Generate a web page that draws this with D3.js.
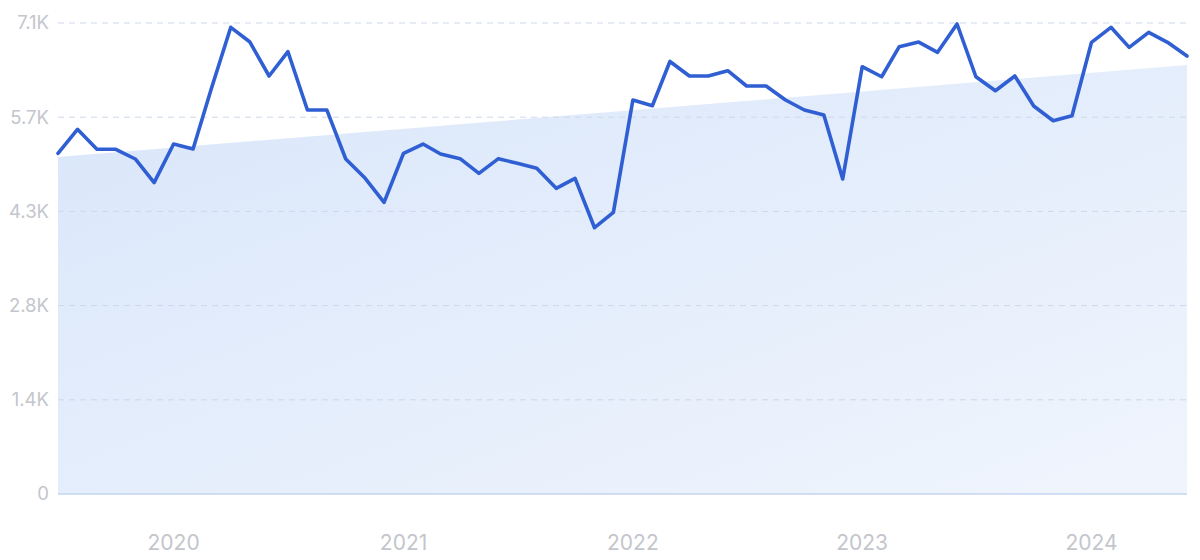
<!DOCTYPE html>
<html>
<head>
<meta charset="utf-8">
<script src="https://cdn.jsdelivr.net/npm/d3@7"></script>
<style>
  html, body { margin: 0; padding: 0; background: #ffffff; }
  svg { display: block; }
</style>
</head>
<body>
<svg id="chart" width="1200" height="560"></svg>
<script>
// ---- data ----
const startMonth = "2019-07";
const values = [
  5136, 5497, 5196, 5196, 5050, 4693, 5276, 5200, 6110, 7035,
  6818, 6301, 6667, 5788, 5788, 5050, 4759, 4397, 5136, 5276,
  5125, 5055, 4834, 5055, 4985, 4910, 4608, 4759, 4014, 4246,
  5939, 5853, 6520, 6301, 6301, 6381, 6150, 6150, 5939, 5788,
  5713, 4748, 6441, 6290, 6743, 6812, 6658, 7085, 6290, 6079,
  6301, 5848, 5627, 5703, 6809, 7035, 6733, 6959, 6809, 6602
];
const trendValues = [5080, 6467];
const yTicks = [0, 1420, 2840, 4260, 5680, 7100];
const yTickLabels = ["0", "1.4K", "2.8K", "4.3K", "5.7K", "7.1K"];
const xTickYears = ["2020", "2021", "2022", "2023", "2024"];

(function () {
  const parseMonth = d3.timeParse("%Y-%m");
  const start = parseMonth(startMonth);
  const dates = values.map((v, i) => d3.timeMonth.offset(start, i));
  const series = values.map((v, i) => ({ date: dates[i], value: v }));

  const svg = d3.select("#chart");
  const mLeft = 58, mRight = 1187, mTop = 23, mBottom = 494;

  const x = d3.scaleTime()
    .domain([dates[0], dates[dates.length - 1]])
    .range([mLeft, mRight]);
  const y = d3.scaleLinear()
    .domain([0, 7100])
    .range([mBottom, mTop]);

  const defs = svg.append("defs");
  const grad = defs.append("linearGradient")
    .attr("id", "areaGrad")
    .attr("x1", "0%").attr("y1", "0%")
    .attr("x2", "100%").attr("y2", "100%");
  grad.append("stop").attr("offset", "0%").attr("stop-color", "#d9e6fa");
  grad.append("stop").attr("offset", "100%").attr("stop-color", "#f0f5fd");

  const trend = [
    { date: dates[0], value: trendValues[0] },
    { date: dates[dates.length - 1], value: trendValues[1] }
  ];
  svg.append("path")
    .datum(trend)
    .attr("fill", "url(#areaGrad)")
    .attr("d", d3.area()
      .x(d => x(d.date))
      .y0(y(0))
      .y1(d => y(d.value)));

  svg.append("g")
    .selectAll("line")
    .data(yTicks.filter(t => t > 0))
    .join("line")
    .attr("x1", mLeft).attr("x2", mRight)
    .attr("y1", d => y(d)).attr("y2", d => y(d))
    .attr("stroke", "#cdd8ea")
    .attr("stroke-width", 1)
    .attr("stroke-dasharray", "6,5");

  svg.append("line")
    .attr("x1", mLeft).attr("x2", mRight)
    .attr("y1", y(0)).attr("y2", y(0))
    .attr("stroke", "#c4d5ef")
    .attr("stroke-width", 1.5);

  svg.append("g")
    .selectAll("text")
    .data(yTicks)
    .join("text")
    .attr("x", 49)
    .attr("y", d => y(d))
    .attr("dy", "0.35em")
    .attr("text-anchor", "end")
    .attr("font-family", "Inter, 'Noto Sans', sans-serif")
    .attr("font-size", 18.5)
    .attr("fill", "#c3c6cc")
    .text((d, i) => yTickLabels[i]);

  svg.append("g")
    .selectAll("text")
    .data(xTickYears)
    .join("text")
    .attr("x", d => x(parseMonth(d + "-01")))
    .attr("y", 550)
    .attr("text-anchor", "middle")
    .attr("font-family", "Inter, 'Noto Sans', sans-serif")
    .attr("font-size", 21)
    .attr("fill", "#c3c6cc")
    .text(d => d);

  svg.append("path")
    .datum(series)
    .attr("fill", "none")
    .attr("stroke", "#2f5fd3")
    .attr("stroke-width", 3.6)
    .attr("stroke-linejoin", "round")
    .attr("stroke-linecap", "round")
    .attr("d", d3.line()
      .x(d => x(d.date))
      .y(d => y(d.value)));
})();
</script>
</body>
</html>
